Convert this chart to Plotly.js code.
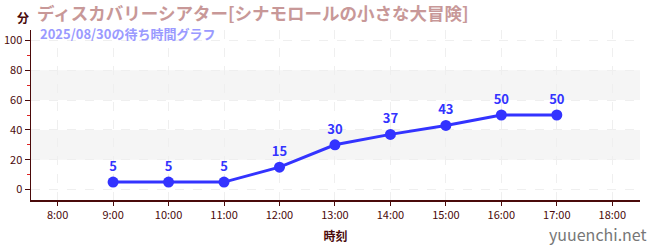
<!DOCTYPE html>
<html><head><meta charset="utf-8">
<script src="https://cdn.plot.ly/plotly-3.0.1.min.js"></script>
<style>html,body{margin:0;padding:0;background:#fff;}#chart{width:650px;height:250px;}</style>
</head><body><div id="chart"></div>
<script>
const hours = [9, 10, 11, 12, 13, 14, 15, 16, 17];
const waits = [5, 5, 5, 15, 30, 37, 43, 50, 50];
const tickHours = [8, 9, 10, 11, 12, 13, 14, 15, 16, 17, 18];
const tickLabels = ["8:00","9:00","10:00","11:00","12:00","13:00","14:00","15:00","16:00","17:00","18:00"];
const yTicks = [0, 20, 40, 60, 80, 100];
const bands = [[20, 40], [60, 80]];
const title = "ディスカバリーシアター[シナモロールの小さな大冒険]";
const subtitle = "2025/08/30の待ち時間グラフ";

const axisColor = "#4a0a0a";
const font = "Noto Sans CJK JP";

const shapes = bands.map(b => ({type:"rect", xref:"paper", yref:"y", x0:0, x1:1, y0:b[0], y1:b[1],
  fillcolor:"#f5f5f5", line:{width:0}, layer:"below"}));

const trace = {
  x: hours, y: waits, mode: "lines+markers+text", type: "scatter",
  text: waits.map(String), textposition: "top center",
  textfont: {family: font, size: 13, color: "#3333ff", weight: "bold"},
  line: {color: "#3333ff", width: 3},
  marker: {color: "#3333ff", size: 11},
  cliponaxis: false, hoverinfo: "none"
};

const layout = {
  width: 650, height: 250,
  margin: {l: 31, r: 10, t: 30, b: 50},
  paper_bgcolor: "#fff", plot_bgcolor: "#fff",
  showlegend: false,
  shapes: shapes,
  xaxis: {
    range: [7.52, 18.5], tickvals: tickHours, ticktext: tickLabels,
    showgrid: true, gridcolor: "#efefef", griddash: "dash", gridwidth: 1,
    showline: true, linecolor: axisColor, linewidth: 1.5,
    ticks: "outside", ticklen: 4, tickcolor: axisColor,
    tickfont: {family: font, size: 11, color: axisColor},
    zeroline: false,
    title: {text: "時刻", font: {family: font, size: 12, color: axisColor, weight: "bold"}, standoff: 12}
  },
  yaxis: {
    range: [-7, 107], tickvals: yTicks,
    showgrid: true, gridcolor: "#efefef", griddash: "dash", gridwidth: 1,
    showline: true, linecolor: axisColor, linewidth: 1.5,
    ticks: "outside", ticklen: 5, tickcolor: axisColor,
    tickfont: {family: font, size: 11, color: axisColor},
    zeroline: false,
    minor: {tickvals: [10, 30, 50, 70, 90], ticks: "outside", ticklen: 3, tickcolor: "#dd2222", showgrid: false}
  },
  annotations: [
    {xref: "paper", yref: "paper", x: -0.027, y: 1, yshift: 13, xanchor: "left", yanchor: "middle", showarrow: false,
     text: "<b>分</b>", font: {family: font, size: 12, color: axisColor}},
    {xref: "paper", yref: "paper", x: 0.008, y: 1, yshift: 18, xanchor: "left", yanchor: "middle", showarrow: false, borderpad: 0,
     text: "<b>" + title + "</b>", font: {family: font, size: 17.5, color: "#c89898"}},
    {xref: "paper", yref: "paper", x: 0.013, y: 1, yshift: -3, xanchor: "left", yanchor: "middle", showarrow: false, borderpad: 0,
     text: "<b>" + subtitle + "</b>", font: {family: font, size: 13, color: "#9a9aff"}},
    {xref: "paper", yref: "paper", x: 1.015, y: 0, yshift: -34, xanchor: "right", yanchor: "middle", showarrow: false,
     text: "yuuenchi.net", font: {family: font, size: 16, color: "#777777"}}
  ]
};

Plotly.newPlot("chart", [trace], layout, {displayModeBar: false, staticPlot: true});
</script>
</body></html>
